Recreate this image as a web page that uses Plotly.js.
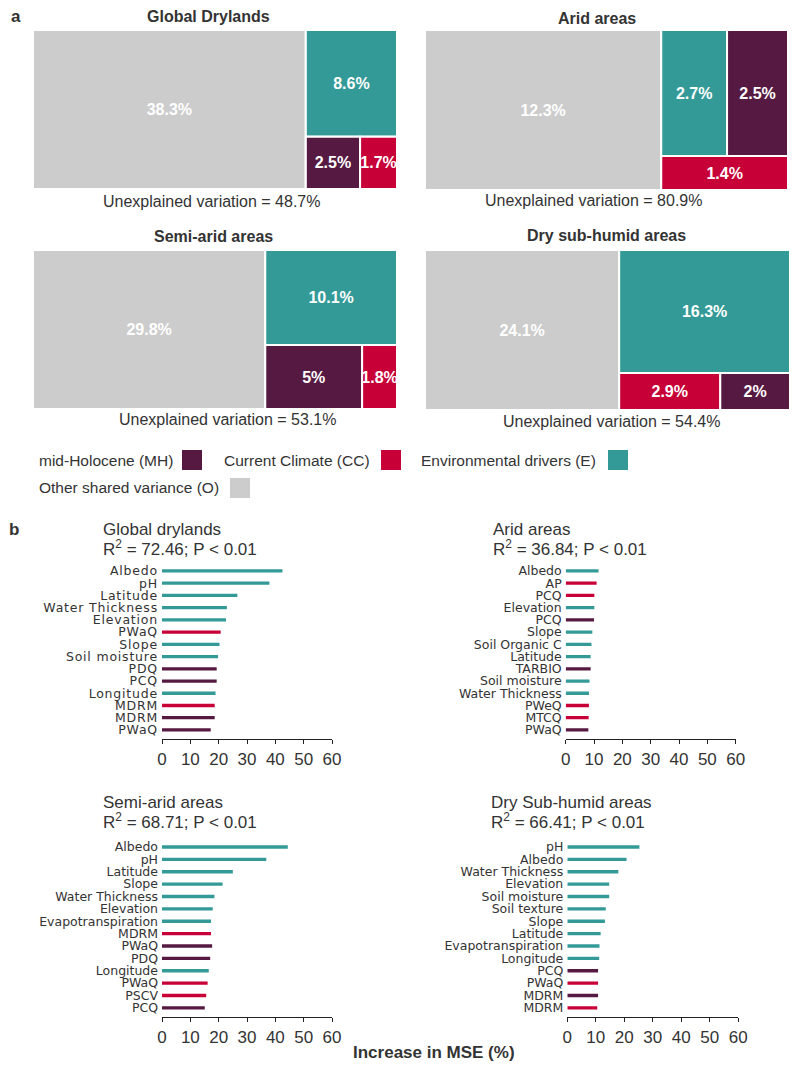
<!DOCTYPE html>
<html>
<head>
<meta charset="utf-8">
<script src="https://cdn.plot.ly/plotly-3.0.1.min.js"></script>
<style>
  body { margin: 0; background: #fff; }
  #fig { width: 800px; height: 1071px; }
  .ytick text { letter-spacing: 0.8px; }
</style>
</head>
<body>
<div id="fig"></div>
<script>
var W = 800, H = 1071;

// ---- a) variance partitioning (%)
var shareKeys = ['MH', 'CC', 'E', 'O'];
var globalShares = [2.5, 1.7, 8.6, 38.3];
var aridShares = [2.5, 1.4, 2.7, 12.3];
var semiShares = [5, 1.8, 10.1, 29.8];
var dryShares = [2, 2.9, 16.3, 24.1];
var unexplained = [48.7, 80.9, 53.1, 54.4];
var treeTitles = ['Global Drylands', 'Arid areas', 'Semi-arid areas', 'Dry sub-humid areas'];
// the two small parts that share the corner block
var pairs = [['MH', 'CC'], ['E', 'MH'], ['MH', 'CC'], ['CC', 'MH']];
var legendNames = ['mid-Holocene (MH)', 'Current Climate (CC)', 'Environmental drivers (E)', 'Other shared variance (O)'];

// ---- b) random forest importance, increase in MSE (%)
var gdVars = ['Albedo', 'pH', 'Latitude', 'Water Thickness', 'Elevation', 'PWaQ', 'Slope', 'Soil moisture', 'PDQ', 'PCQ', 'Longitude', 'MDRM', 'MDRM', 'PWaQ'];
var gdMSE = [42.5, 37.9, 26.6, 22.9, 22.6, 20.7, 20.3, 19.8, 19.3, 19.3, 18.9, 18.6, 18.6, 17.2];
var gdGrp = ['E', 'E', 'E', 'E', 'E', 'CC', 'E', 'E', 'MH', 'MH', 'E', 'CC', 'MH', 'MH'];

var aridVars = ['Albedo', 'AP', 'PCQ', 'Elevation', 'PCQ', 'Slope', 'Soil Organic C', 'Latitude', 'TARBIO', 'Soil moisture', 'Water Thickness', 'PWeQ', 'MTCQ', 'PWaQ'];
var aridMSE = [11.6, 10.9, 10.1, 10.1, 10.0, 9.4, 9.1, 8.8, 8.8, 8.4, 8.2, 8.2, 8.1, 8.0];
var aridGrp = ['E', 'CC', 'CC', 'E', 'MH', 'E', 'E', 'E', 'MH', 'E', 'E', 'CC', 'CC', 'MH'];

var semiVars = ['Albedo', 'pH', 'Latitude', 'Slope', 'Water Thickness', 'Elevation', 'Evapotranspiration', 'MDRM', 'PWaQ', 'PDQ', 'Longitude', 'PWaQ', 'PSCV', 'PCQ'];
var semiMSE = [44.4, 36.8, 25.0, 21.4, 18.5, 17.9, 17.3, 17.3, 17.7, 17.0, 16.5, 16.1, 15.6, 15.1];
var semiGrp = ['E', 'E', 'E', 'E', 'E', 'E', 'E', 'CC', 'MH', 'MH', 'E', 'CC', 'CC', 'MH'];

var dryVars = ['pH', 'Albedo', 'Water Thickness', 'Elevation', 'Soil moisture', 'Soil texture', 'Slope', 'Latitude', 'Evapotranspiration', 'Longitude', 'PCQ', 'PWaQ', 'MDRM', 'MDRM'];
var dryMSE = [25.3, 20.8, 17.9, 14.7, 14.7, 13.5, 13.2, 11.7, 11.3, 11.2, 10.8, 10.8, 10.8, 10.5];
var dryGrp = ['E', 'E', 'E', 'E', 'E', 'E', 'E', 'E', 'E', 'E', 'MH', 'CC', 'MH', 'CC'];

var rfTitles = ['Global drylands', 'Arid areas', 'Semi-arid areas', 'Dry Sub-humid areas'];
var rfR2 = ['72.46', '36.84', '68.71', '66.41'];

var col = {MH: '#561a42', CC: '#c80038', E: '#339a98', O: '#cccccc'};
var txtCol = '#333333';

function px(x) { return x / W; }
function py(y) { return 1 - y / H; }

function tree(shares, pair, dom) {
  var ids = ['root', 'rest', 'pair'], parents = ['', 'root', 'rest'];
  var vals = [0, 0, 0], txt = ['', '', ''], cols = ['#fff', '#fff', '#fff'];
  shareKeys.forEach(function(k, i) {
    ids.push(k);
    parents.push(k == 'O' ? 'root' : (pair.indexOf(k) > -1 ? 'pair' : 'rest'));
    vals.push(shares[i]);
    txt.push(shares[i] + '%');
    cols.push(col[k]);
  });
  return {
    type: 'treemap', ids: ids, labels: ids, parents: parents, values: vals,
    branchvalues: 'remainder', text: txt, textinfo: 'text', textposition: 'middle center',
    textfont: {family: 'Liberation Sans', size: 16, color: '#fff', weight: 'bold'},
    marker: {colors: cols, line: {width: 2, color: '#fff'}, pad: {t: 0, l: 0, r: 0, b: 0}, depthfade: false},
    tiling: {packing: 'slice-dice', pad: 0},
    pathbar: {visible: false}, sort: true, hoverinfo: 'skip',
    domain: dom
  };
}

function lolli(vals, grp, n) {
  var s = n > 1 ? n : '';
  return {
    type: 'bar', orientation: 'h', x: vals, y: vals.map(function(v, i) { return i; }),
    width: 0.27, marker: {color: grp.map(function(g) { return col[g]; })},
    xaxis: 'x' + s, yaxis: 'y' + s, hoverinfo: 'skip'
  };
}

function xax(d0, d1, n) {
  return {
    domain: [px(d0), px(d1)], anchor: 'y' + (n > 1 ? n : ''), range: [0, 60],
    tickvals: [0, 10, 20, 30, 40, 50, 60], showline: true, linecolor: '#222', linewidth: 1.3,
    ticks: 'outside', ticklen: 4, tickcolor: '#222', showgrid: false, zeroline: false,
    tickfont: {family: 'Liberation Sans', size: 17, color: txtCol}, fixedrange: true
  };
}

function yax(top, bottom, names, n) {
  return {
    domain: [py(bottom), py(top)], anchor: 'x' + (n > 1 ? n : ''), range: [13.74, -0.7],
    tickvals: names.map(function(v, i) { return i; }), ticktext: names,
    showgrid: false, zeroline: false, showline: false, ticks: '', ticklabelstandoff: 3,
    tickfont: {family: 'DejaVu Sans', size: 12.5, color: txtCol}, fixedrange: true
  };
}

var data = [
  tree(globalShares, pairs[0], {x: [px(33), px(397)], y: [py(189), py(30)]}),
  tree(aridShares, pairs[1], {x: [px(425), px(788)], y: [py(190), py(30)]}),
  tree(semiShares, pairs[2], {x: [px(33), px(397)], y: [py(409), py(250)]}),
  tree(dryShares, pairs[3], {x: [px(425), px(790)], y: [py(410), py(250)]}),
  lolli(gdMSE, gdGrp, 1),
  lolli(aridMSE, aridGrp, 2),
  lolli(semiMSE, semiGrp, 3),
  lolli(dryMSE, dryGrp, 4)
];

function note(text, x, y, size, anchor, bold) {
  return {
    text: text, x: px(x), y: py(y), xref: 'paper', yref: 'paper', showarrow: false,
    xanchor: anchor || 'center', yanchor: 'middle',
    font: {family: 'Liberation Sans', size: size, color: txtCol, weight: bold ? 'bold' : 'normal'}
  };
}

var ann = [
  note('a', 16, 17, 17, 'center', true),
  note('b', 14, 529, 17, 'center', true),
  note('Increase in MSE (%)', 434, 1052, 17, 'center', true)
];
var titleXY = [[208, 17], [597, 18], [213, 236], [606, 235]];
var unexXY = [[211, 201], [593, 200], [228, 420], [611, 422]];
treeTitles.forEach(function(t, i) {
  ann.push(note(t, titleXY[i][0], titleXY[i][1], 16, 'center', true));
  ann.push(note('Unexplained variation = ' + unexplained[i] + '%', unexXY[i][0], unexXY[i][1], 16));
});
var rfXY = [[101, 529], [491, 529], [101, 802], [489, 802]];
rfTitles.forEach(function(t, i) {
  ann.push(note(t, rfXY[i][0], rfXY[i][1], 17, 'left'));
  ann.push(note('R<sup>2</sup> = ' + rfR2[i] + '; P &lt; 0.01', rfXY[i][0], rfXY[i][1] + 19, 17, 'left'));
});

// legend for the colour groups
var legXY = [[37, 460, 182], [221.5, 460, 381], [419, 460, 608], [37, 488, 230]];
var shapes = [];
shareKeys.forEach(function(k, i) {
  var p = legXY[i];
  ann.push(note(legendNames[i], p[0], p[1], 15.5, 'left'));
  shapes.push({
    type: 'rect', xref: 'paper', yref: 'paper',
    x0: px(p[2]), x1: px(p[2] + 20), y0: py(p[1] + 10), y1: py(p[1] - 10),
    fillcolor: col[k], line: {width: 0}
  });
});

var layout = {
  width: W, height: H,
  margin: {l: 0, r: 0, t: 0, b: 0},
  paper_bgcolor: '#fff', plot_bgcolor: '#fff',
  showlegend: false,
  font: {family: 'Liberation Sans', color: txtCol},
  uniformtext: {mode: 'show', minsize: 16},
  xaxis: xax(162, 332, 1),
  xaxis2: xax(565.7, 735.7, 2),
  xaxis3: xax(162, 332, 3),
  xaxis4: xax(567.3, 738.3, 4),
  yaxis: yax(562.4, 739, gdVars, 1),
  yaxis2: yax(562.4, 739, aridVars, 2),
  yaxis3: yax(838.3, 1017, semiVars, 3),
  yaxis4: yax(838.3, 1017, dryVars, 4),
  annotations: ann,
  shapes: shapes
};

Plotly.newPlot('fig', data, layout, {displayModeBar: false, staticPlot: true});
</script>
</body>
</html>
